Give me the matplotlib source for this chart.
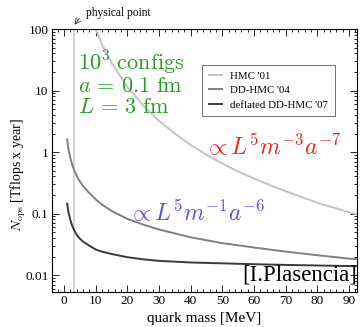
import matplotlib
matplotlib.use('Agg')
import matplotlib.pyplot as plt
from matplotlib.ticker import MultipleLocator, LogLocator, NullFormatter, FixedLocator

plt.rcParams['font.family'] = 'Liberation Serif'
plt.rcParams['mathtext.fontset'] = 'cm'

# quark mass [MeV] and cost [Tflops x year]
massHMC = [9.5, 10, 12, 15, 20, 25, 30, 35, 40, 45, 50, 55, 60, 65, 70, 75, 80, 85, 90, 93]
costHMC = [117, 100, 56, 28, 11.5, 5.7, 3.2, 2.0, 1.3, 0.9, 0.65, 0.48, 0.37, 0.29, 0.23, 0.185, 0.15, 0.125, 0.105, 0.095]

massDD = [1, 1.25, 1.5, 2, 2.5, 3, 4, 5, 6, 8, 10, 12, 15, 20, 25, 30, 40, 50, 60, 70, 80, 90, 93]
costDD = [1.6, 1.25, 1.05, 0.8, 0.64, 0.54, 0.41, 0.33, 0.28, 0.215, 0.17, 0.14, 0.11, 0.082, 0.066, 0.055, 0.041, 0.033, 0.028, 0.024, 0.021, 0.0185, 0.018]

massDefl = [1, 1.25, 1.5, 2, 2.5, 3, 4, 5, 6, 8, 10, 12, 15, 20, 25, 30, 40, 50, 60, 70, 80, 90, 93]
costDefl = [0.145, 0.118, 0.10, 0.078, 0.065, 0.056, 0.045, 0.039, 0.035, 0.030, 0.026, 0.024, 0.022, 0.0195, 0.018, 0.017, 0.016, 0.0155, 0.0150, 0.0146, 0.0143, 0.0140, 0.0139]

physicalMass = 3
labels = ["HMC '01", "DD-HMC '04", "deflated DD-HMC '07"]

fig = plt.figure(figsize=(3.6, 3.27), dpi=100)
ax = fig.add_axes([52/360., 1-292/327., 305/360., 263/327.])

ax.axvline(physicalMass, color='#d0d0d0', lw=1.3, zorder=1)
ax.plot(massHMC, costHMC, color='#c4c4c4', lw=1.4, label=labels[0])
ax.plot(massDD, costDD, color='#808080', lw=1.4, label=labels[1])
ax.plot(massDefl, costDefl, color='#3a3a3a', lw=1.4, label=labels[2])

ax.set_yscale('log')
ax.set_xlim(-3.8, 92.5)
ax.set_ylim(0.0053, 100)
ax.xaxis.set_major_locator(MultipleLocator(10))
ax.xaxis.set_minor_locator(MultipleLocator(2))
ax.yaxis.set_major_locator(FixedLocator([0.01, 0.1, 1, 10, 100]))
ax.yaxis.set_major_formatter(matplotlib.ticker.FixedFormatter(['0.01', '0.1', '1', '10', '100']))
ax.yaxis.set_minor_locator(LogLocator(base=10, subs=range(2, 10)))
ax.yaxis.set_minor_formatter(NullFormatter())
ax.tick_params(which='both', direction='in', top=True, right=True, labelsize=9.5, pad=2.5)
ax.tick_params(which='major', length=5, width=0.6)
ax.tick_params(which='minor', length=2.5, width=0.6)
for s in ax.spines.values():
    s.set_linewidth(0.8)

ax.set_xlabel('quark mass [MeV]', fontsize=11, labelpad=3)
ax.set_ylabel(r'$N_{\rm ops}$ [Tflops x year]', fontsize=10)
ax.yaxis.set_label_coords(-0.078, 0.445)

leg = ax.legend(loc='upper right', bbox_to_anchor=(0.945, 0.885), fontsize=7.8, frameon=True,
                fancybox=False, edgecolor='#333333', handlelength=1.2, borderpad=0.6, labelspacing=0.45)
leg.get_frame().set_linewidth(0.6)

ax.text(0.085, 0.925, r'$10^3\ \mathrm{configs}$' + '\n' + r'$a\,=\,0.1\ \mathrm{fm}$' + '\n' + r'$L\,=\,3\ \mathrm{fm}$',
        transform=ax.transAxes, color='#2a9a2a', fontsize=16, va='top', ha='left', linespacing=1.1)
ax.text(0.5, 0.52, r'$\propto L^5 m^{-3} a^{-7}$', transform=ax.transAxes, color='#ee2222', fontsize=17)
ax.text(0.25, 0.27, r'$\propto L^5 m^{-1} a^{-6}$', transform=ax.transAxes, color='#5555dd', fontsize=17)
ax.text(1.0, 0.025, '[I.Plasencia]', transform=ax.transAxes, fontsize=16.5, ha='right', va='bottom')

ax.annotate('', xy=(73, 327-27), xycoords='figure pixels', xytext=(81, 327-16),
            textcoords='figure pixels', arrowprops=dict(arrowstyle='->', lw=0.6, color='#333333'))
fig.text(86/360., 1-13/327., 'physical point', fontsize=8.3, va='center', ha='left')

fig.savefig('out.png', dpi=100)
